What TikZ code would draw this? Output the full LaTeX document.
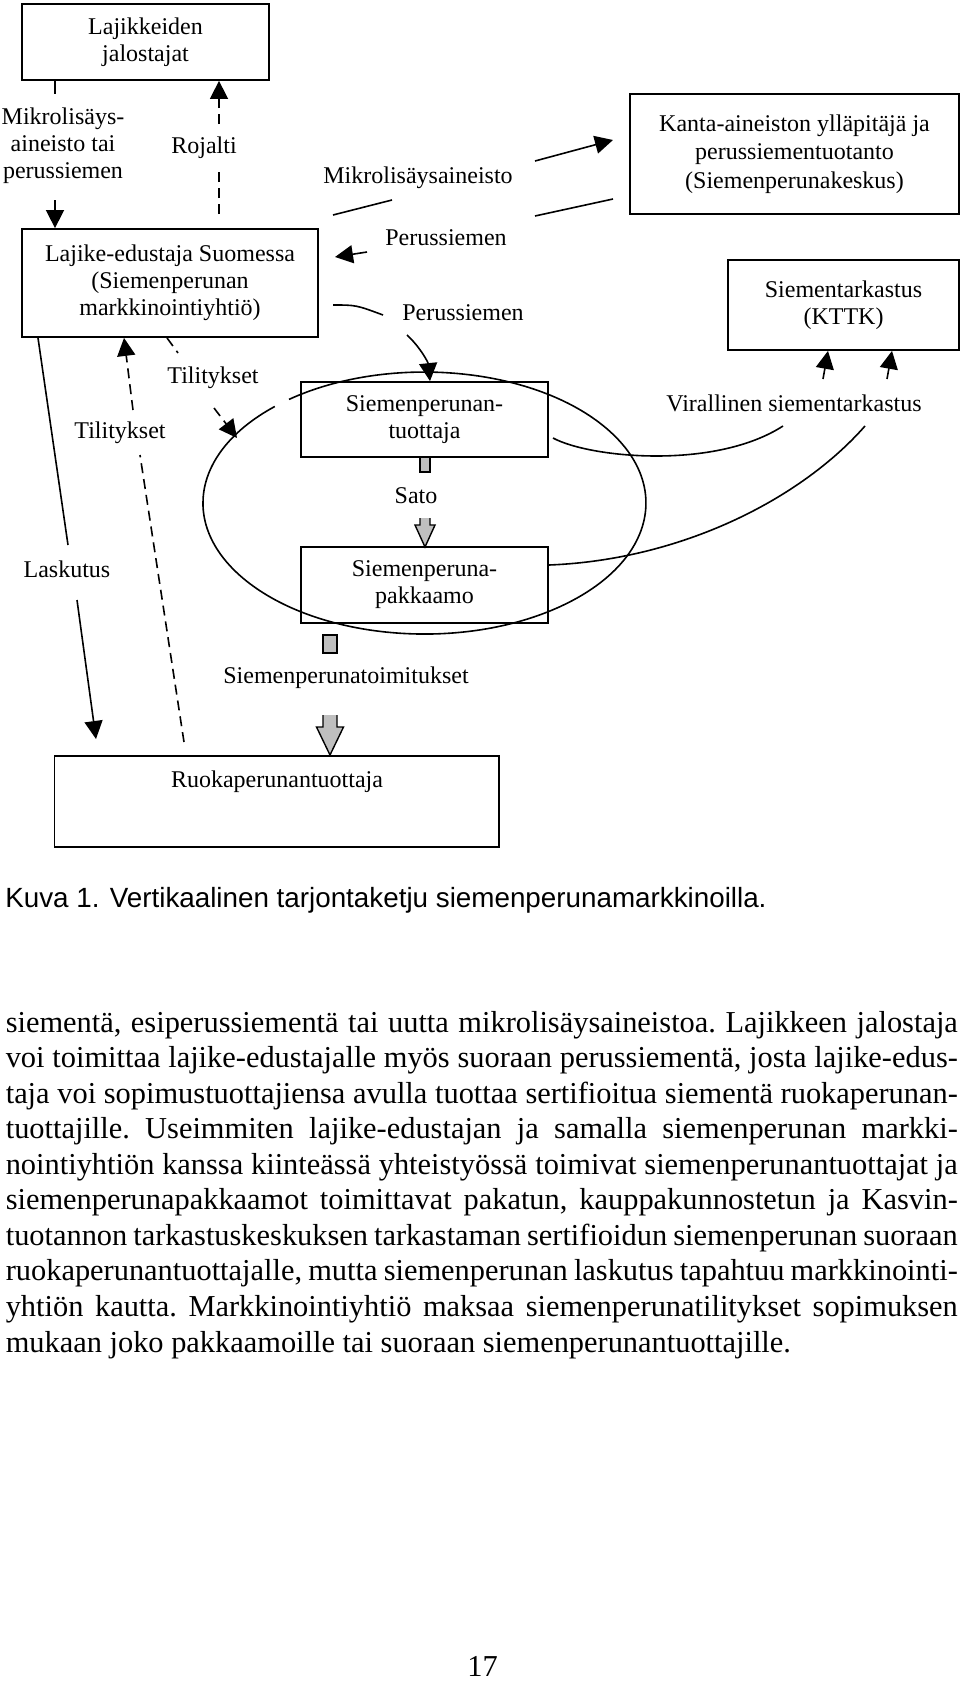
\documentclass[tikz,border=0pt]{standalone}
\usepackage{fontspec}
\setmainfont{Liberation Serif}
\newfontfamily\capfont{Liberation Sans}
\usetikzlibrary{arrows.meta}
\newcommand{\diagfont}{\fontsize{12}{13.6}\selectfont}
\newcommand{\bodyfont}{\fontsize{15.2}{17.78}\selectfont}
\tikzset{
  dashflow/.style={dash pattern=on 5pt off 3pt},
  block/.style={fill=black!25, draw=black, line width=0.7pt}
}

\begin{document}
\begin{tikzpicture}[x=0.5pt, y=-0.5pt, line width=0.8pt]
\useasboundingbox (0,0) rectangle (960,1681);

\begin{scope}[every node/.style={draw, line width=0.9pt, align=center, inner sep=0pt, font=\diagfont}]
    \node[minimum width=123.8pt, minimum height=38pt] (A) at (145.5,42) {Lajikkeiden\\jalostajat};
    \node[minimum width=148.3pt, minimum height=54pt] (B) at (170,283) {Lajike-edustaja Suomessa\\(Siemenperunan\\markkinointiyhtiö)};
    \node[minimum width=164.5pt, minimum height=60pt, font=\fontsize{12}{14.3}\selectfont] (K) at (794.5,154) {Kanta-aineiston ylläpitäjä ja\\perussiementuotanto\\(Siemenperunakeskus)};
    \node[minimum width=115.5pt, minimum height=45pt] (S) at (843.5,305) {Siementarkastus\\(KTTK)};
    \node[minimum width=123.5pt, minimum height=37.5pt] (C) at (424.5,419.5) {Siemenperunan-\\tuottaja};
    \node[minimum width=123.5pt, minimum height=38pt] (D) at (424.5,585) {Siemenperuna-\\pakkaamo};
    \node[minimum width=222.25pt, minimum height=45.5pt] (E) at (276.75,801.5) {};
\end{scope}

\begin{scope}[every node/.style={align=center, inner sep=0pt, font=\diagfont}]
    \node (ruoka) at (277,782) {Ruokaperunantuottaja};
    \node (mlab) at (63,146) {Mikrolisäys-\\aineisto tai\\perussiemen};
    \node (rlab) at (204,148) {Rojalti};
    \node (malab) at (418,178) {Mikrolisäysaineisto};
    \node (palab) at (446,238) {Perussiemen};
    \node (pblab) at (463,313) {Perussiemen};
    \node (tllab) at (120,433) {Tilitykset};
    \node (trlab) at (213,378) {Tilitykset};
    \node (laslab) at (67,569) {Laskutus};
    \node (satolab) at (416,496) {Sato};
    \node (toimlab) at (346,678) {Siemenperunatoimitukset};
    \node (virlab) at (794,403) {Virallinen siementarkastus};
\end{scope}

% the loop round producer and packer
\draw (289,399.4) arc[start angle=232.3, end angle=587.5, x radius=221.5, y radius=131];

\begin{scope}[>={Triangle[length=9pt,width=9pt]}]
    \coordinate (mk1) at (55,94);
    \coordinate (mk2) at (55,200);
    \draw (A.south -| mk1) -- (mk1);
    \draw[->] (mk2) -- (B.north -| mk2);

    \coordinate (rj1) at (219,170);
    \coordinate (rj2) at (219,124);
    \draw[dashflow, shorten <=7pt] (B.north -| rj1) -- (rj1);
    \draw[dashflow, ->] (rj2) -- (A.south -| rj2);

    \coordinate (ma1) at (333,215);
    \coordinate (ma2) at (392,200);
    \coordinate (ma3) at (535,161);
    \coordinate (ma4) at (613,140);
    \draw (ma1) -- (ma2);
    \draw[->] (ma3) -- (ma4);

    \coordinate (pa1) at (613,199);
    \coordinate (pa2) at (535,216);
    \coordinate (pa3) at (367,252);
    \coordinate (pa4) at (335,257);
    \draw (pa1) -- (pa2);
    \draw[->] (pa3) -- (pa4);

    \coordinate (pb1) at (333,305);
    \coordinate (pb2) at (383,315);
    \coordinate (pb3) at (407,335);
    \coordinate (pb4) at (430,0);
    \draw (pb1) .. controls (356,305) .. (pb2);
    \draw[->] (pb3) .. controls (420,347) and (428,362) .. (C.north -| pb4);

    \coordinate (ls1) at (38,0);
    \coordinate (ls2) at (68,545);
    \coordinate (ls3) at (77,600);
    \coordinate (ls4) at (96,739);
    \draw (B.south -| ls1) -- (ls2);
    \draw[->] (ls3) -- (ls4);

    \coordinate (tl1) at (184,742);
    \coordinate (tl2) at (140,455);
    \coordinate (tl3) at (133,410);
    \coordinate (tl4) at (124,0);
    \draw[dashflow] (tl1) -- (tl2);
    \draw[dashflow, ->] (tl3) -- (B.south -| tl4);

    \coordinate (tr1) at (167,0);
    \coordinate (tr2) at (178,353);
    \coordinate (tr3) at (214,408);
    \coordinate (tr4) at (237,438);
    \draw[dashflow] (B.south -| tr1) -- (tr2);
    \draw[dashflow, ->] (tr3) -- (tr4);

    \coordinate (v1) at (553,438);
    \coordinate (v2) at (783,426);
    \coordinate (v3) at (823,379);
    \coordinate (v4) at (828,0);
    \coordinate (v5) at (548,565);
    \coordinate (v6) at (865,426);
    \coordinate (v7) at (887,379);
    \coordinate (v8) at (892,0);
    \draw (v1) .. controls (590,458) and (715,470) .. (v2);
    \draw[->] (v3) -- (S.south -| v4);
    \draw (D.east |- v5) .. controls (680,560) and (800,500) .. (v6);
    \draw[->] (v7) -- (S.south -| v8);
\end{scope}

% grey block arrows
\filldraw[block] (420,457) rectangle (430,472);
\fill[black!25] (420,518) -- (420,525) -- (415,525) -- (425,547) -- (435,525) -- (430,525) -- (430,518) -- cycle;
\draw[line width=0.7pt] (420,518) -- (420,525) -- (415,525) -- (425,547) -- (435,525) -- (430,525) -- (430,518);
\filldraw[block] (323,635) rectangle (337,653);
\fill[black!25] (323,715) -- (323,727) -- (316.5,727) -- (330,755) -- (343.5,727) -- (337,727) -- (337,715) -- cycle;
\draw[line width=0.7pt] (323,715) -- (323,727) -- (316.5,727) -- (330,755) -- (343.5,727) -- (337,727) -- (337,715);

\node[anchor=base west, inner sep=0pt, font=\capfont\fontsize{13.9}{16}\selectfont] (cap) at (4.5,907) {Kuva 1. Vertikaalinen tarjontaketju siemenperunamarkkinoilla.};

\node[anchor=base west, inner sep=0pt] (body) at (5,1032) {\parbox[t]{476pt}{\bodyfont\frenchspacing\tolerance=10000\hyphenpenalty=10000\exhyphenpenalty=10000\noindent
siementä, esiperussiementä tai uutta mikrolisäysaineistoa. Lajikkeen jalostaja\linebreak
voi toimittaa lajike-edustajalle myös suoraan perussiementä, josta lajike-edus-\linebreak
taja voi sopimustuottajiensa avulla tuottaa sertifioitua siementä ruokaperunan-\linebreak
tuottajille. Useimmiten lajike-edustajan ja samalla siemenperunan markki-\linebreak
nointiyhtiön kanssa kiinteässä yhteistyössä toimivat siemenperunantuottajat ja\linebreak
siemenperunapakkaamot toimittavat pakatun, kauppakunnostetun ja Kasvin-\linebreak
tuotannon tarkastuskeskuksen tarkastaman sertifioidun siemenperunan suoraan\linebreak
ruokaperunantuottajalle, mutta siemenperunan laskutus tapahtuu markkinointi-\linebreak
yhtiön kautta. Markkinointiyhtiö maksaa siemenperunatilitykset sopimuksen\linebreak
mukaan joko pakkaamoille tai suoraan siemenperunantuottajille.}};

\node[anchor=base, inner sep=0pt, font=\bodyfont] (pnum) at (482.5,1676) {17};
\end{tikzpicture}
\end{document}
